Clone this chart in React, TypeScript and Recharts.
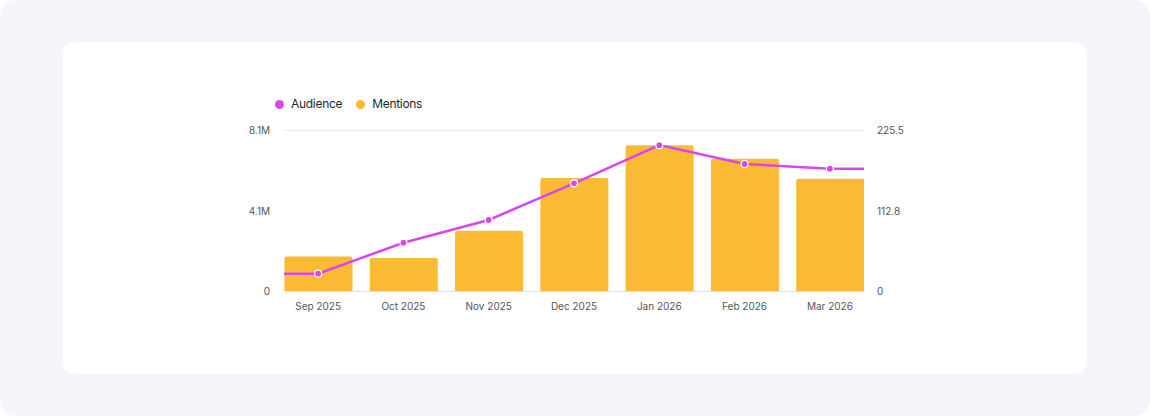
import React from 'react';
import { ComposedChart, Bar, Line, XAxis, YAxis, CartesianGrid } from 'recharts';

const months = ['Sep 2025', 'Oct 2025', 'Nov 2025', 'Dec 2025', 'Jan 2026', 'Feb 2026', 'Mar 2026'];
const audience = [898000, 2460000, 3605000, 5455000, 7380000, 6430000, 6190000];
const mentions = [49, 47, 85, 159, 205, 186, 158];

const AUDIENCE_COLOR = '#D946EF';
const MENTIONS_COLOR = '#FBBA33';
const EDGE = 0.4;

const audienceTop = Math.max(...audience) * 1.1;
const mentionsTop = Math.max(...mentions) * 1.1;

const barData = months.map((m, i) => ({ x: i, month: m, mentions: mentions[i] }));
const lineData = [
    { x: -EDGE, audience: audience[0], edge: true },
    ...months.map((m, i) => ({ x: i, audience: audience[i], edge: false })),
    { x: months.length - 1 + EDGE, audience: audience[audience.length - 1], edge: true }
];

const fmtM = (v: number) => (v === 0 ? '0' : (v / 1e6).toFixed(1) + 'M');
const fmt1 = (v: number) => (v === 0 ? '0' : v.toFixed(1));

const tickStyle = { fontSize: 10, fill: '#55565c', fontFamily: 'Inter' };

const renderDot = (props: any) => {
    const { cx, cy, payload, index } = props;
    if (payload.edge) return <g key={`d${index}`} />;
    return <circle key={`d${index}`} cx={cx} cy={cy} r={3.5} fill={AUDIENCE_COLOR} stroke="#fff" strokeWidth={1.2} />;
};

const App: React.FC = () => {
    const legendItem = (color: string, label: string) => (
        <div style={{ display: 'flex', alignItems: 'center', gap: 7 }}>
            <span style={{ width: 9, height: 9, borderRadius: '50%', background: color, display: 'inline-block' }} />
            <span>{label}</span>
        </div>
    );

    return (
        <div style={{ position: 'relative', width: 1150, height: 416, background: '#f4f5f9', borderRadius: 16, fontFamily: 'Inter' }}>
            <style>{'body{margin:0;background:#fff}'}</style>
            <div style={{ position: 'absolute', left: 63, top: 42, width: 1024, height: 332, background: '#fff', borderRadius: 12 }} />
            <div style={{
                position: 'absolute', left: 275, top: 95, display: 'flex', gap: 14,
                fontSize: 12, letterSpacing: -0.3, color: '#27272a', lineHeight: '18px'
            }}>
                {legendItem(AUDIENCE_COLOR, 'Audience')}
                {legendItem(MENTIONS_COLOR, 'Mentions')}
            </div>
            <div style={{ position: 'absolute', left: 0, top: 0 }}>
                <ComposedChart
                    width={1150}
                    height={416}
                    data={barData}
                    margin={{ top: 130.5, right: 246, bottom: 94.5, left: 244 }}
                >
                    <CartesianGrid vertical={false} stroke="#ececf0" />
                    <XAxis
                        xAxisId="bar"
                        dataKey="x"
                        type="number"
                        domain={[-EDGE, months.length - 1 + EDGE]}
                        ticks={months.map((_, i) => i)}
                        tickFormatter={(i: number) => months[i]}
                        allowDataOverflow
                        tickLine={false}
                        tickSize={0}
                        tickMargin={11}
                        axisLine={{ stroke: '#dcdfe8' }}
                        tick={tickStyle}
                        height={30}
                    />
                    <XAxis
                        xAxisId="line"
                        dataKey="x"
                        type="number"
                        domain={[-EDGE, months.length - 1 + EDGE]}
                        allowDataOverflow
                        hide
                    />
                    <YAxis
                        yAxisId="left"
                        domain={[0, audienceTop]}
                        ticks={[0, audienceTop / 2, audienceTop]}
                        tickFormatter={fmtM}
                        axisLine={false}
                        tickLine={false}
                        tickSize={0}
                        tickMargin={14}
                        tick={tickStyle}
                        width={40}
                    />
                    <YAxis
                        yAxisId="right"
                        orientation="right"
                        domain={[0, mentionsTop]}
                        ticks={[0, mentionsTop / 2, mentionsTop]}
                        tickFormatter={fmt1}
                        axisLine={false}
                        tickLine={false}
                        tickSize={0}
                        tickMargin={13}
                        tick={{ ...tickStyle, textAnchor: 'start' }}
                        width={40}
                    />
                    <Bar
                        xAxisId="bar"
                        yAxisId="right"
                        dataKey="mentions"
                        name="Mentions"
                        fill={MENTIONS_COLOR}
                        barSize={68}
                        radius={[2, 2, 0, 0]}
                        isAnimationActive={false}
                    />
                    <Line
                        xAxisId="line"
                        yAxisId="left"
                        data={lineData}
                        dataKey="audience"
                        name="Audience"
                        type="linear"
                        stroke={AUDIENCE_COLOR}
                        strokeWidth={2.5}
                        dot={renderDot}
                        activeDot={false}
                        isAnimationActive={false}
                    />
                </ComposedChart>
            </div>
        </div>
    );
};

export default App;
